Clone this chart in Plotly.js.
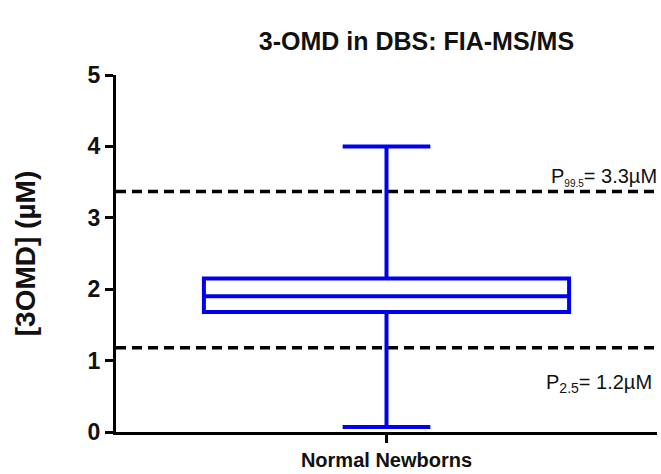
<!DOCTYPE html>
<html>
<head>
<meta charset="utf-8">
<script src="https://cdn.plot.ly/plotly-3.0.1.min.js"></script>
<style>html,body{margin:0;padding:0;background:#fff}#chart{width:661px;height:474px}</style>
</head>
<body>
<div id="chart"></div>
<script>
var categories = ["Normal Newborns"];
var lowerWhisker = [0.07];
var q1Values = [1.68];
var medianValues = [1.90];
var q3Values = [2.15];
var upperWhisker = [4.0];
var refValues = [3.37, 1.18];
var refLabels = ["P<sub><span style=\"font-size:10px\">99.5</span></sub>= 3.3µM",
                 "P<sub><span style=\"font-size:14px\">2.5</span></sub>= 1.2µM"];
var refLabelPos = ["above", "below"];

var FONT = "Liberation Sans, Arial, sans-serif";

var trace = {
  type: "box",
  x: categories,
  q1: q1Values,
  median: medianValues,
  q3: q3Values,
  lowerfence: lowerWhisker,
  upperfence: upperWhisker,
  width: 0.675,
  whiskerwidth: 0.24,
  fillcolor: "rgba(255,255,255,0)",
  line: {color: "#0000f0", width: 4},
  boxpoints: false,
  hoverinfo: "skip",
  showlegend: false
};

var shapes = refValues.map(function (v) {
  return {type: "line", xref: "paper", x0: 0, x1: 1, yref: "y", y0: v, y1: v,
          line: {color: "#000", width: 3.5, dash: "10px,6px"}, layer: "below"};
});
var annotations = refValues.map(function (v, i) {
  var above = refLabelPos[i] === "above";
  return {xref: "paper", x: above ? 1.004 : 0.995, xanchor: "right",
          yref: "y", y: v, yanchor: above ? "bottom" : "top",
          yshift: above ? 0 : -21, showarrow: false, text: refLabels[i],
          font: {family: FONT, size: 20, color: "#111"}};
});

var layout = {
  width: 661, height: 474,
  margin: {l: 116, r: 4, t: 75, b: 42},
  paper_bgcolor: "#fff", plot_bgcolor: "#fff",
  title: {text: "<b>3-OMD in DBS: FIA-MS/MS</b>", x: 0.63, xanchor: "center", y: 0.912, yanchor: "middle",
          font: {family: FONT, size: 25, color: "#111"}},
  xaxis: {
    type: "category", range: [-0.5, 0.5], showgrid: false, zeroline: false,
    showline: true, linecolor: "#000", linewidth: 3,
    ticks: "outside", ticklen: 8, tickwidth: 3, tickcolor: "#000",
    tickfont: {family: FONT, size: 20, color: "#111", weight: "bold"}
  },
  yaxis: {
    range: [0, 5], tickvals: [0, 1, 2, 3, 4, 5], showgrid: false, zeroline: false,
    showline: true, linecolor: "#000", linewidth: 3,
    ticks: "outside", ticklen: 8, tickwidth: 3, tickcolor: "#000",
    tickfont: {family: FONT, size: 23, color: "#111", weight: "bold"},
    title: {text: "<b>[3OMD] (µM)</b>", standoff: 44, font: {family: FONT, size: 28, color: "#111"}}
  },
  shapes: shapes,
  annotations: annotations
};

Plotly.newPlot("chart", [trace], layout, {displayModeBar: false, staticPlot: true});
</script>
</body>
</html>
